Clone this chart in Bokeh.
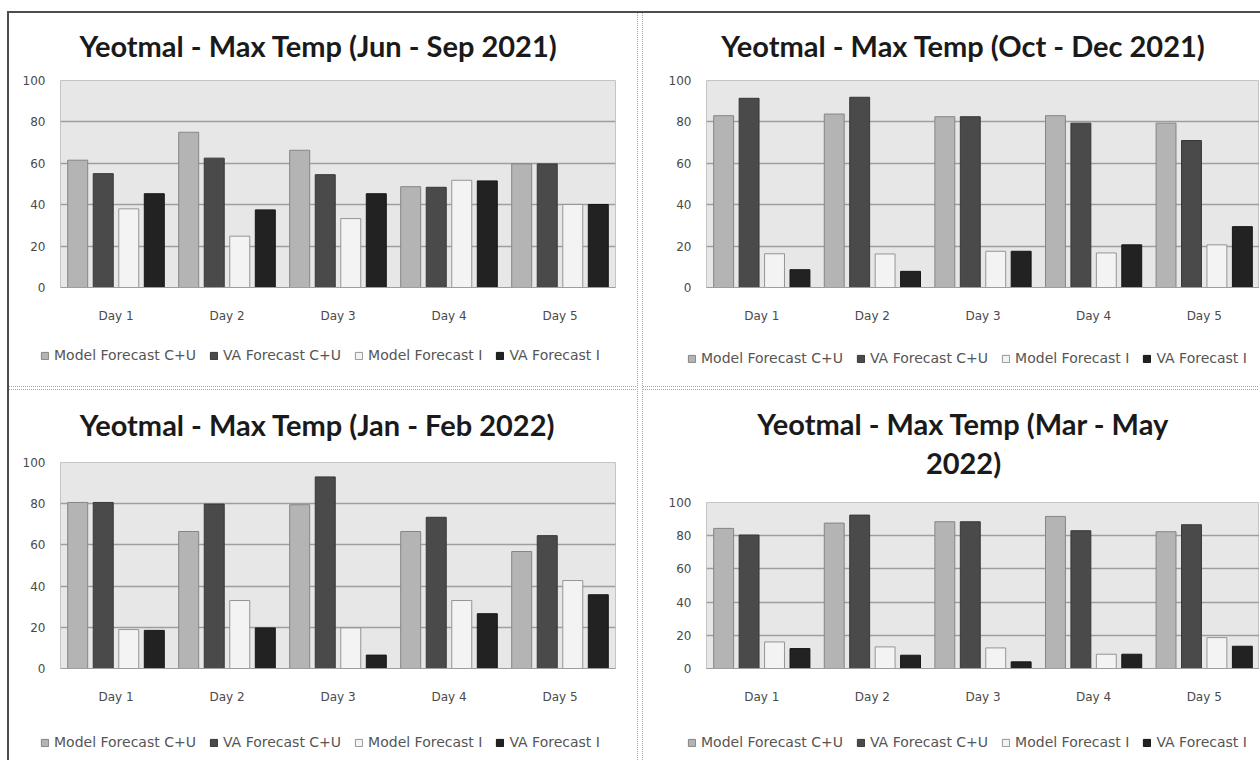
from bokeh.plotting import figure
from bokeh.models import (ColumnDataSource, FactorRange, Range1d, Legend,
                          LegendItem, Div, Label)
from bokeh.layouts import row, column
from bokeh.transform import dodge
from bokeh.embed import file_html
from bokeh.resources import INLINE

# Categories and series
days = ["Day 1", "Day 2", "Day 3", "Day 4", "Day 5"]
series_names = ["Model Forecast C+U", "VA Forecast C+U", "Model Forecast I", "VA Forecast I"]
y_ticks = [0, 20, 40, 60, 80, 100]

# Jun - Sep 2021
jun_sep_2021_model_cu = [61.5, 75.0, 66.3, 48.7, 59.7]
jun_sep_2021_va_cu = [55.0, 62.5, 54.5, 48.4, 59.7]
jun_sep_2021_model_i = [38.0, 24.8, 33.3, 51.8, 40.1]
jun_sep_2021_va_i = [45.3, 37.5, 45.3, 51.5, 40.1]

# Oct - Dec 2021
oct_dec_2021_model_cu = [83.0, 83.8, 82.5, 83.0, 79.4]
oct_dec_2021_va_cu = [91.4, 91.9, 82.5, 79.4, 71.0]
oct_dec_2021_model_i = [16.3, 16.2, 17.5, 16.7, 20.6]
oct_dec_2021_va_i = [8.6, 7.8, 17.5, 20.6, 29.4]

# Jan - Feb 2022
jan_feb_2022_model_cu = [80.6, 66.5, 79.5, 66.5, 56.8]
jan_feb_2022_va_cu = [80.6, 79.8, 93.0, 73.4, 64.5]
jan_feb_2022_model_i = [18.9, 33.0, 19.7, 33.0, 42.7]
jan_feb_2022_va_i = [18.5, 19.7, 6.5, 26.6, 35.8]

# Mar - May 2022
mar_may_2022_model_cu = [84.4, 87.6, 88.4, 91.6, 82.4]
mar_may_2022_va_cu = [80.4, 92.4, 88.4, 83.0, 86.6]
mar_may_2022_model_i = [16.0, 13.0, 12.4, 8.6, 18.6]
mar_may_2022_va_i = [12.0, 8.0, 4.0, 8.6, 13.4]

FILLS = ["#b4b4b4", "#4a4a4a", "#f3f3f3", "#222222"]
LINES = ["#858585", "#383838", "#959595", "#161616"]
OFFSETS = [-0.345, -0.115, 0.115, 0.345]
BAR_W = 0.18

TITLE_FONT = "Lato"
TEXT_FONT = "DejaVu Sans"


def blank_strip(width, height):
    """Axis-less figure whose frame covers the whole canvas."""
    p = figure(width=width, height=height, output_backend="svg",
               toolbar_location=None, x_range=Range1d(0, 1),
               y_range=Range1d(0, 1), min_border=0,
               x_axis_location=None, y_axis_location=None)
    p.frame_align = False
    p.grid.grid_line_color = None
    p.outline_line_color = None
    p.background_fill_color = "white"
    p.border_fill_color = "white"
    return p


def make_heading(width, height, lines):
    p = blank_strip(width, height)
    for text, x, y in lines:
        p.add_layout(Label(x=x, y=y, x_units="screen", y_units="screen",
                           text=text, text_align="center",
                           text_baseline="middle", text_font=TITLE_FONT,
                           text_font_size="29px", text_font_style="bold",
                           text_color="#1a1a1a"))
    return p


def make_chart(values, width, left, right, frame_h):
    src = ColumnDataSource(dict(day=days, s0=values[0], s1=values[1],
                                s2=values[2], s3=values[3]))
    top, bottom = 8, 40
    p = figure(x_range=FactorRange(*days), y_range=Range1d(0, 100),
               width=width, height=top + frame_h + bottom,
               output_backend="svg", toolbar_location=None, title=None,
               min_border_left=left, min_border_right=right,
               min_border_top=top, min_border_bottom=bottom)
    p.frame_align = False
    p.background_fill_color = "#e7e7e7"
    p.border_fill_color = "white"
    p.outline_line_color = "#c4c4c4"

    p.xgrid.grid_line_color = None
    p.ygrid.grid_line_color = "#9e9e9e"
    p.ygrid.grid_line_width = 1.6
    p.yaxis.ticker = y_ticks

    for ax in (p.xaxis[0], p.yaxis[0]):
        ax.major_tick_line_color = None
        ax.minor_tick_line_color = None
        ax.major_tick_out = 0
        ax.major_tick_in = 0
        ax.minor_tick_out = 0
        ax.major_label_text_font = TEXT_FONT
        ax.major_label_text_font_size = "12px"
        ax.major_label_text_color = "#4a4a4a"
    p.yaxis.axis_line_color = None
    p.yaxis.major_label_standoff = 15
    p.xaxis.axis_line_color = "#9e9e9e"
    p.xaxis.major_label_standoff = 21

    for i in range(len(series_names)):
        p.vbar(x=dodge("day", OFFSETS[i], range=p.x_range), top="s%d" % i,
               width=BAR_W, source=src, fill_color=FILLS[i],
               line_color=LINES[i], line_width=1)
    return p


def make_legend(width, height, x, y):
    """Strip holding the horizontal series key under a chart."""
    p = blank_strip(width, height)
    items = []
    for i, name in enumerate(series_names):
        # key swatch only: the bar itself sits outside the visible range
        src = ColumnDataSource(dict(x=[5.0], top=[5.0]))
        r = p.vbar(x="x", top="top", width=0.1, source=src,
                   fill_color=FILLS[i], line_color=LINES[i], line_width=1)
        items.append(LegendItem(label=name, renderers=[r]))
    p.add_layout(Legend(items=items, orientation="horizontal", location=(x, y),
                        label_text_font=TEXT_FONT, label_text_font_size="14px",
                        label_text_color="#555555", glyph_width=9,
                        glyph_height=9, label_standoff=5, spacing=13,
                        padding=4, margin=0, border_line_color=None,
                        background_fill_alpha=0))
    return p


def hline(width, height, color):
    return Div(width=width, height=height, margin=0,
               styles={"background-color": color})


def vdotted(height):
    return Div(width=1, height=height, margin=0,
               styles={"background-image":
                       "linear-gradient(#a8a8a8 50%, rgba(255,255,255,0) 0%)",
                       "background-size": "1px 2px"})


def hdotted(width):
    return Div(width=width, height=1, margin=0,
               styles={"background-image":
                       "linear-gradient(to right, #a8a8a8 50%, rgba(255,255,255,0) 0%)",
                       "background-size": "2px 1px"})


LW, RW = 628, 616

# top-left: Jun - Sep 2021
tl_head = make_heading(LW, 59, [("Yeotmal - Max Temp (Jun - Sep 2021)", 309, 27)])
tl = make_chart([jun_sep_2021_model_cu, jun_sep_2021_va_cu,
                 jun_sep_2021_model_i, jun_sep_2021_va_i], LW, 51, 22, 207)
tl_key = make_legend(LW, 59, 31, 23)

# top-right: Oct - Dec 2021
tr_head = make_heading(RW, 59, [("Yeotmal - Max Temp (Oct - Dec 2021)", 320, 27)])
tr = make_chart([oct_dec_2021_model_cu, oct_dec_2021_va_cu,
                 oct_dec_2021_model_i, oct_dec_2021_va_i], RW, 63, 0, 207)
tr_key = make_legend(RW, 59, 44, 20)

# bottom-left: Jan - Feb 2022
bl_head = make_heading(LW, 64, [("Yeotmal - Max Temp (Jan - Feb 2022)", 308, 30)])
bl = make_chart([jan_feb_2022_model_cu, jan_feb_2022_va_cu,
                 jan_feb_2022_model_i, jan_feb_2022_va_i], LW, 51, 22, 206)
bl_key = make_legend(LW, 52, 31, 10)

# bottom-right: Mar - May 2022 (two-line heading)
br_head = make_heading(RW, 104, [("Yeotmal - Max Temp (Mar - May", 320, 71),
                                 ("2022)", 320, 32)])
br = make_chart([mar_may_2022_model_cu, mar_may_2022_va_cu,
                 mar_may_2022_model_i, mar_may_2022_va_i], RW, 63, 0, 166)
br_key = make_legend(RW, 52, 44, 10)

left_col = column(tl_head, tl, tl_key, hdotted(LW), hline(LW, 2, "#ffffff"),
                  hdotted(LW), bl_head, bl, bl_key, spacing=0)
right_col = column(tr_head, tr, tr_key, hdotted(RW), hline(RW, 2, "#ffffff"),
                   hdotted(RW), br_head, br, br_key, spacing=0)
body = row(hline(2, 750, "#4d4d4d"), left_col, vdotted(750),
           hline(4, 750, "#ffffff"), vdotted(750), right_col, spacing=0)
layout = column(hline(1254, 2, "#4d4d4d"), body, spacing=0)
layout.margin = (11, 0, 0, 7)

open("out.html", "w").write(file_html(layout, INLINE))
